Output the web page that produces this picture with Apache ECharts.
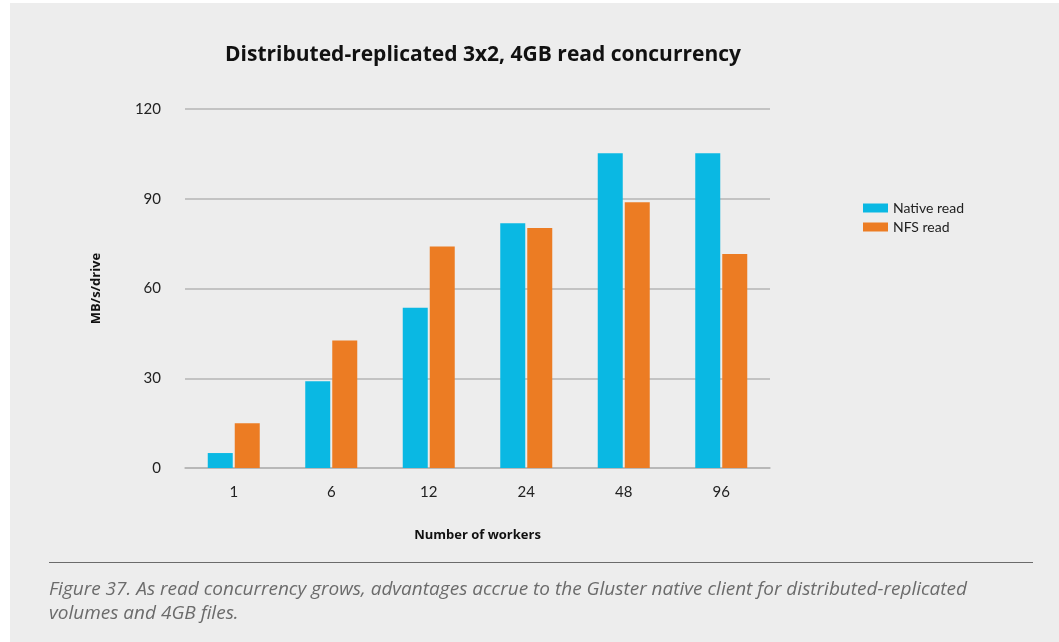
<!DOCTYPE html>
<html>
<head>
<meta charset="utf-8">
<script src="https://cdn.jsdelivr.net/npm/echarts@6/dist/echarts.min.js"></script>
<style>
  html, body { margin: 0; padding: 0; background: #ffffff; }
  #frame { position: absolute; left: 10px; top: 3px; width: 1049px; height: 639px; background: #ededed; }
  #main { position: absolute; left: -10px; top: -3px; width: 1059px; height: 642px; }
</style>
</head>
<body>
<div id="frame"><div id="main"></div></div>
<script>
var workers = ["1", "6", "12", "24", "48", "96"];
var nativeRead = [5, 29, 53.6, 81.8, 105.2, 105.2];
var nfsRead = [15, 42.6, 74, 80.2, 88.8, 71.5];
var yTicks = [0, 30, 60, 90, 120];

var caption = "Figure 37. As read concurrency grows, advantages accrue to the Gluster native client for distributed-replicated volumes and 4GB files.";

var chart = echarts.init(document.getElementById("main"), null, { renderer: "canvas" });

var option = {
  backgroundColor: "transparent",
  animation: false,
  textStyle: { fontFamily: "Lato" },
  title: {
    text: "Distributed-replicated 3x2, 4GB read concurrency",
    left: 478,
    textAlign: "center",
    top: 40,
    textStyle: { fontFamily: "Open Sans", fontWeight: "bold", fontSize: 21, color: "#111111" }
  },
  legend: {
    orient: "vertical",
    left: 858,
    top: 196,
    itemWidth: 25,
    itemHeight: 9,
    itemGap: 5,
    icon: "rect",
    data: ["Native read", "NFS read"],
    textStyle: { fontFamily: "Lato", fontSize: 14, color: "#222222", padding: [0, 0, 0, 0] }
  },
  grid: { left: 185, right: 289, top: 109, bottom: 174 },
  xAxis: {
    type: "category",
    data: workers,
    name: "Number of workers",
    nameLocation: "middle",
    nameGap: 61,
    nameTextStyle: { fontFamily: "Open Sans", fontWeight: "bold", fontSize: 13, color: "#111111" },
    axisLine: { lineStyle: { color: "#b5b5b5", width: 1.5 } },
    axisTick: { show: false },
    axisLabel: { fontFamily: "Lato", fontSize: 15, color: "#222222", margin: 17 }
  },
  yAxis: {
    type: "value",
    min: yTicks[0],
    max: yTicks[yTicks.length - 1],
    interval: 30,
    name: "MB/s/drive",
    nameLocation: "middle",
    nameGap: 82,
    nameTextStyle: { fontFamily: "Open Sans", fontWeight: "bold", fontSize: 13, color: "#111111" },
    axisLine: { show: false },
    axisTick: { show: false },
    axisLabel: { fontFamily: "Lato", fontSize: 15, color: "#222222", margin: 24 },
    splitLine: { lineStyle: { color: "#b5b5b5", width: 1.5 } }
  },
  series: [
    {
      name: "Native read",
      type: "bar",
      data: nativeRead,
      barWidth: 25,
      barGap: "8%",
      itemStyle: { color: "#0ab8e3" }
    },
    {
      name: "NFS read",
      type: "bar",
      data: nfsRead,
      barWidth: 25,
      barGap: "8%",
      itemStyle: { color: "#ec7c23" }
    }
  ],
  graphic: [
    {
      type: "line",
      shape: { x1: 49, y1: 562.5, x2: 1033, y2: 562.5 },
      style: { stroke: "#6b6b6b", lineWidth: 1 }
    },
    {
      type: "text",
      left: 49,
      top: 578,
      style: {
        text: caption,
        width: 980,
        overflow: "break",
        lineHeight: 24,
        fontFamily: "Open Sans",
        fontStyle: "italic",
        fontSize: 19,
        fill: "#6b6b6b"
      }
    }
  ]
};

chart.setOption(option);
</script>
</body>
</html>
